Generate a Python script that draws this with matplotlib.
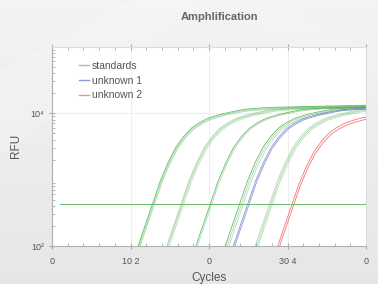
import numpy as np
import matplotlib
matplotlib.use("Agg")
import matplotlib.pyplot as plt
from matplotlib.ticker import FixedLocator, LogLocator, NullFormatter

plt.rcParams['font.family'] = ['Liberation Sans', 'DejaVu Sans']

template_dx = [-4, -3, -2, -1, 0, 1, 2, 3, 4, 5, 6, 7, 8, 9, 10, 11, 12, 14, 16, 20, 24, 28]
template_rfu = [19, 40, 87, 195, 430, 955, 1820, 3100, 4500, 6000, 7200, 8300,
                9100, 9800, 10400, 11000, 11500, 12000, 12300, 12600, 12900, 13200]

# curve positions (cycle shift) and plateau scale
std_shift = [12.80, 12.90, 13.00, 16.45, 16.55, 16.70, 20.15, 20.30,
             23.90, 24.10, 24.30, 27.70, 27.85, 28.00]
std_scale = [1.00, 0.97, 0.94, 1.00, 0.97, 0.94, 0.99, 0.96,
             1.00, 0.97, 0.94, 0.99, 0.96, 0.93]
std_alpha = [0.85, 0.45, 0.45, 0.5, 0.45, 0.4, 0.85, 0.45,
             0.85, 0.45, 0.4, 0.45, 0.45, 0.4]
unk1_shift = [24.90, 25.05]
unk1_scale = [0.98, 0.95]
unk2_shift = [30.40, 30.55]
unk2_scale = [0.86, 0.80]

threshold = 430
x_ticks = [0, 10, 20, 30, 40]
x_labels = ['0', '10 2', '0', '30 4', '0']
y_ticks = [1e2, 1e4]
y_labels = ['10²', '10⁴']

fig = plt.figure(figsize=(3.78, 2.84), dpi=100)

# background gradient
bg = fig.add_axes([0, 0, 1, 1], zorder=-2)
grad = np.linspace(0.955, 0.905, 256).reshape(-1, 1)
bg.imshow(np.dstack([grad, grad, grad]), aspect='auto', extent=[0, 1, 0, 1])
bg.fill([0.0, 0.35, 0.55, 0.0], [0.75, 1.0, 1.0, 0.45], color='white', alpha=0.18, lw=0)
bg.fill([0.55, 0.75, 1.0, 1.0], [1.0, 1.0, 0.8, 0.65], color='white', alpha=0.12, lw=0)
bg.set_xlim(0, 1)
bg.set_ylim(0, 1)
bg.axis('off')

ax = fig.add_axes([0.1376, 0.1338, 0.8307, 0.7018])
ax.set_facecolor('white')

dx = np.array(template_dx)
rfu = np.array(template_rfu)
for s, k, a in zip(std_shift, std_scale, std_alpha):
    ax.plot(dx + s, rfu * k, color='#4caf50', lw=0.6, alpha=a)
for s, k in zip(unk1_shift, unk1_scale):
    ax.plot(dx + s, rfu * k, color='#5c6bc0', lw=0.6, alpha=0.7)
for s, k in zip(unk2_shift, unk2_scale):
    ax.plot(dx + s, rfu * k, color='#f04a4a', lw=0.6, alpha=0.75)

ax.plot([1, 40], [threshold, threshold], color='#66bb66', lw=0.7)

ax.set_yscale('log')
ax.set_xlim(0, 40)
ax.set_ylim(1e2, 1e5)

ax.xaxis.set_major_locator(FixedLocator(x_ticks))
ax.set_xticklabels(x_labels)
ax.xaxis.set_minor_locator(FixedLocator(np.arange(0, 41, 2)))
ax.yaxis.set_major_locator(FixedLocator(y_ticks))
ax.set_yticklabels(y_labels)
ax.yaxis.set_minor_locator(LogLocator(base=10, subs=np.arange(2, 10)))
ax.yaxis.set_minor_formatter(NullFormatter())

ax.grid(True, which='major', color='#eeeeee', lw=0.7)
ax.set_axisbelow(True)
ax.tick_params(which='both', colors='#aaaaaa', labelcolor='#555555', labelsize=6.5,
               top=True, direction='in')
ax.tick_params(which='major', length=4, direction='inout')
ax.tick_params(which='minor', length=2)
ax.tick_params(axis='x', pad=6)
for side in ['left', 'bottom']:
    ax.spines[side].set_color('#b0b0b0')
    ax.spines[side].set_linewidth(0.8)
for side in ['top', 'right']:
    ax.spines[side].set_color('#dddddd')
    ax.spines[side].set_linewidth(0.8)

ax.set_xlabel('Cycles', fontsize=8.5, color='#555555', labelpad=4)
ax.set_ylabel('RFU', fontsize=8.5, color='#555555', labelpad=6)

handles = [plt.Line2D([], [], color='#8fd18f', lw=1),
           plt.Line2D([], [], color='#8e9bd0', lw=1),
           plt.Line2D([], [], color='#f08f8f', lw=1)]
leg = ax.legend(handles, ['standards', 'unknown 1', 'unknown 2'], loc='upper left',
                bbox_to_anchor=(0.055, 0.975), frameon=False, fontsize=7.5,
                handlelength=1.0, handletextpad=0.3, labelspacing=0.45)
for t in leg.get_texts():
    t.set_color('#555555')

fig.text(219.5 / 378, 1 - 17 / 284, 'Amphlification', ha='center', va='center',
         fontsize=8, fontweight='bold', color='#666666')

fig.savefig('out.png', dpi=100)
